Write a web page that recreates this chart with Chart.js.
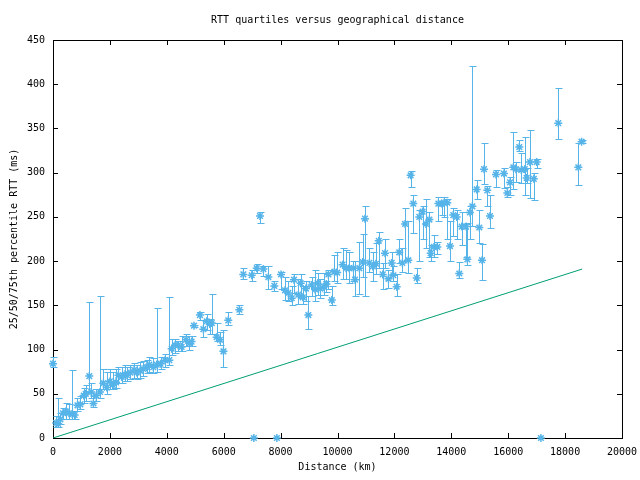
<!DOCTYPE html>
<html>
<head>
<meta charset="utf-8">
<title>RTT quartiles versus geographical distance</title>
<script src="https://cdn.jsdelivr.net/npm/chart.js@4.4.1/dist/chart.umd.min.js"></script>
<style>
  html, body { margin: 0; padding: 0; background: #fff; }
</style>
</head>
<body>
<canvas id="myChart" width="640" height="480"></canvas>
<script>
// distance (km) and the 25/50/75th percentile RTT (ms)
const distances = [
  0, 110, 180, 260, 350, 450, 560, 680, 760, 860, 960, 1080, 1150, 1276, 1340, 1420, 1520, 1652, 1770, 1890,
  2000, 2100, 2215, 2300, 2415, 2530, 2600, 2720, 2850, 2940, 3060, 3170, 3290, 3385, 3525, 3645, 3780, 3937, 4090, 4170,
  4290, 4400, 4520, 4675, 4790, 4870, 4955, 5165, 5285, 5400, 5510, 5580, 5750, 5870, 5990, 6160, 6550, 6690, 6985, 7060,
  7160, 7276, 7395, 7570, 7780, 7870, 8015, 8155, 8270, 8390, 8470, 8625, 8705, 8780, 8890, 8975, 9090, 9210, 9300, 9400,
  9520, 9610, 9680, 9800, 9890, 9990, 10180, 10300, 10410, 10560, 10615, 10770, 10885, 10965, 11120, 11240, 11350, 11450, 11590, 11670,
  11790, 11905, 11965, 12080, 12170, 12280, 12375, 12490, 12570, 12665, 12785, 12875, 12990, 13110, 13230, 13275, 13390, 13510, 13545, 13660,
  13745, 13860, 13955, 14070, 14190, 14280, 14365, 14520, 14565, 14655, 14740, 14890, 14985, 15080, 15150, 15265, 15360, 15570, 15850, 15970,
  16065, 16180, 16270, 16390, 16460, 16580, 16650, 16765, 16900, 17000, 17150, 17760, 18465, 18580
];
const medians = [
  84, 17, 16, 21, 28, 30, 28, 27, 26, 37, 38, 48, 50, 70, 52, 39, 48, 52, 62, 57,
  64, 60, 63, 71, 69, 72, 71, 74, 77, 74, 76, 78, 80, 83, 80, 83, 84, 88, 88, 101,
  105, 105, 103, 111, 107, 109, 127, 139, 123, 132, 129, 130, 114, 111, 98, 133, 145, 185, 184, 0,
  192, 251, 191, 182, 172, 0, 185, 167, 164, 158, 179, 162, 175, 159, 169, 139, 173, 168, 175, 169,
  171, 174, 185, 156, 188, 187, 196, 192, 192, 192, 179, 192, 199, 248, 198, 194, 197, 223, 185, 209,
  180, 198, 184, 171, 210, 198, 242, 201, 297, 265, 181, 250, 256, 242, 247, 209, 216, 216, 265, 265,
  266, 266, 217, 252, 250, 186, 239, 239, 202, 255, 262, 281, 238, 201, 304, 280, 251, 298, 299, 277,
  289, 306, 304, 329, 303, 304, 294, 312, 293, 312, 0, 356, 306, 335
];
const lowQuartiles = [
  80, 13, 13, 16, 22, 22, 22, 22, 22, 30, 33, 40, 42, 52, 45, 35, 42, 45, 55, 50,
  55, 55, 56, 62, 62, 65, 65, 67, 68, 67, 68, 70, 73, 75, 73, 75, 78, 80, 83, 94,
  96, 98, 98, 104, 100, 104, 125, 133, 114, 122, 118, 118, 110, 105, 80, 128, 140, 180, 178, 0,
  186, 243, 183, 169, 166, 0, 168, 156, 155, 150, 164, 152, 158, 152, 155, 123, 160, 155, 162, 158,
  162, 165, 168, 150, 178, 175, 180, 180, 175, 178, 160, 163, 182, 161, 188, 178, 185, 192, 168, 192,
  170, 185, 178, 160, 198, 188, 200, 187, 284, 232, 175, 200, 225, 215, 205, 200, 205, 208, 245, 252,
  250, 225, 200, 228, 225, 181, 218, 205, 196, 225, 240, 270, 220, 179, 287, 262, 238, 284, 283, 272,
  275, 282, 290, 324, 288, 275, 288, 271, 269, 305, 0, 338, 286, 333
];
const highQuartiles = [
  92, 25, 45, 28, 34, 40, 38, 77, 30, 45, 48, 56, 60, 154, 62, 48, 55, 160, 78, 75,
  78, 75, 78, 80, 80, 82, 80, 82, 85, 83, 86, 87, 88, 92, 90, 147, 92, 95, 159, 112,
  112, 110, 115, 118, 115, 115, 128, 142, 133, 140, 135, 163, 130, 120, 122, 142, 150, 192, 190, 0,
  197, 256, 194, 194, 178, 0, 188, 182, 178, 172, 185, 180, 185, 172, 178, 160, 182, 190, 186, 180,
  186, 178, 190, 172, 207, 210, 215, 212, 210, 200, 200, 222, 231, 262, 215, 210, 220, 233, 198, 225,
  190, 210, 195, 185, 225, 215, 260, 245, 302, 275, 192, 258, 262, 270, 256, 218, 230, 222, 272, 268,
  272, 270, 245, 260, 258, 199, 255, 242, 243, 262, 421, 292, 258, 219, 333, 285, 275, 303, 305, 284,
  295, 346, 312, 337, 322, 340, 305, 348, 300, 315, 0, 396, 333, 337
];

// speed of light in fibre reference line
const lightLineX = [0, 18600];
const lightLineY = [0, 191];

const blue = '#56b4e9';
const green = '#009e73';
const tickLen = 5;
const mono = 'DejaVu Sans Mono';

// gnuplot style frame with inward ticks on all four sides
const frameAndTicks = {
  id: 'frameAndTicks',
  beforeDatasetsDraw(chart) {
    const { ctx, chartArea: a, scales: { x, y } } = chart;
    ctx.save();
    ctx.strokeStyle = '#000';
    ctx.lineWidth = 1;
    ctx.beginPath();
    x.ticks.forEach(t => {
      const px = Math.round(x.getPixelForValue(t.value)) + 0.5;
      ctx.moveTo(px, a.bottom); ctx.lineTo(px, a.bottom - tickLen);
      ctx.moveTo(px, a.top); ctx.lineTo(px, a.top + tickLen);
    });
    y.ticks.forEach(t => {
      const py = Math.round(y.getPixelForValue(t.value)) + 0.5;
      ctx.moveTo(a.left, py); ctx.lineTo(a.left + tickLen, py);
      ctx.moveTo(a.right, py); ctx.lineTo(a.right - tickLen, py);
    });
    ctx.stroke();
    ctx.strokeRect(Math.round(a.left) + 0.5, Math.round(a.top) + 0.5,
      Math.round(a.right - a.left), Math.round(a.bottom - a.top));
    ctx.restore();
  }
};

// vertical bars from 25th to 75th percentile, with small caps
const quartileBars = {
  id: 'quartileBars',
  beforeDatasetsDraw(chart) {
    const { ctx, scales: { x, y } } = chart;
    ctx.save();
    ctx.strokeStyle = blue;
    ctx.lineWidth = 1;
    ctx.beginPath();
    distances.forEach((d, i) => {
      if (highQuartiles[i] === lowQuartiles[i]) return;
      const px = Math.round(x.getPixelForValue(d)) + 0.5;
      const top = Math.round(y.getPixelForValue(highQuartiles[i])) + 0.5;
      const bot = Math.round(y.getPixelForValue(lowQuartiles[i])) + 0.5;
      ctx.moveTo(px, top); ctx.lineTo(px, bot);
      ctx.moveTo(px - 3, top); ctx.lineTo(px + 4, top);
      ctx.moveTo(px - 3, bot); ctx.lineTo(px + 4, bot);
    });
    ctx.stroke();
    ctx.restore();
  }
};

const ctx = document.getElementById('myChart').getContext('2d');
new Chart(ctx, {
  type: 'scatter',
  data: {
    datasets: [{
      label: 'quartiles',
      data: distances.map((d, i) => ({ x: d, y: medians[i] })),
      pointStyle: 'star',
      pointRadius: 4,
      borderColor: blue,
      backgroundColor: blue,
      borderWidth: 1.5,
      clip: false
    }, {
      type: 'line',
      label: 'light',
      data: lightLineX.map((d, i) => ({ x: d, y: lightLineY[i] })),
      borderColor: green,
      borderWidth: 1,
      pointRadius: 0,
      fill: false
    }]
  },
  plugins: [frameAndTicks, quartileBars],
  options: {
    responsive: false,
    animation: false,
    layout: { padding: { left: 0, right: 18, top: 0, bottom: 0 } },
    plugins: {
      legend: { display: false },
      tooltip: { enabled: false },
      title: {
        display: true,
        text: 'RTT quartiles versus geographical distance',
        fullSize: false,
        color: '#000',
        font: { family: mono, size: 10, weight: 'normal', lineHeight: 1.2 },
        padding: { top: 14, bottom: 14 }
      }
    },
    scales: {
      x: {
        type: 'linear',
        min: 0,
        max: 20000,
        afterFit(scale) {
          scale.height = 42;
          scale.paddingLeft = 0;
          scale.paddingRight = 0;
        },
        grid: { display: false, drawTicks: false },
        border: { display: false },
        ticks: {
          stepSize: 2000,
          autoSkip: false,
          maxRotation: 0,
          padding: 8,
          color: '#000',
          font: { family: mono, size: 10 },
          callback: v => String(v)
        },
        title: {
          display: true,
          text: 'Distance (km)',
          color: '#000',
          font: { family: mono, size: 10, lineHeight: 1.2 },
          padding: { top: 0, bottom: 7 }
        }
      },
      y: {
        min: 0,
        max: 450,
        afterFit(scale) {
          scale.width = 53;
          scale.paddingTop = 0;
          scale.paddingBottom = 0;
        },
        grid: { display: false, drawTicks: false },
        border: { display: false },
        ticks: {
          stepSize: 50,
          padding: 8,
          color: '#000',
          font: { family: mono, size: 10 },
          callback: v => String(v)
        },
        title: {
          display: true,
          text: '25/50/75th percentile RTT (ms)',
          color: '#000',
          font: { family: mono, size: 10, lineHeight: 1.2 },
          padding: { top: 8, bottom: 0 }
        }
      }
    }
  }
});
</script>
</body>
</html>
